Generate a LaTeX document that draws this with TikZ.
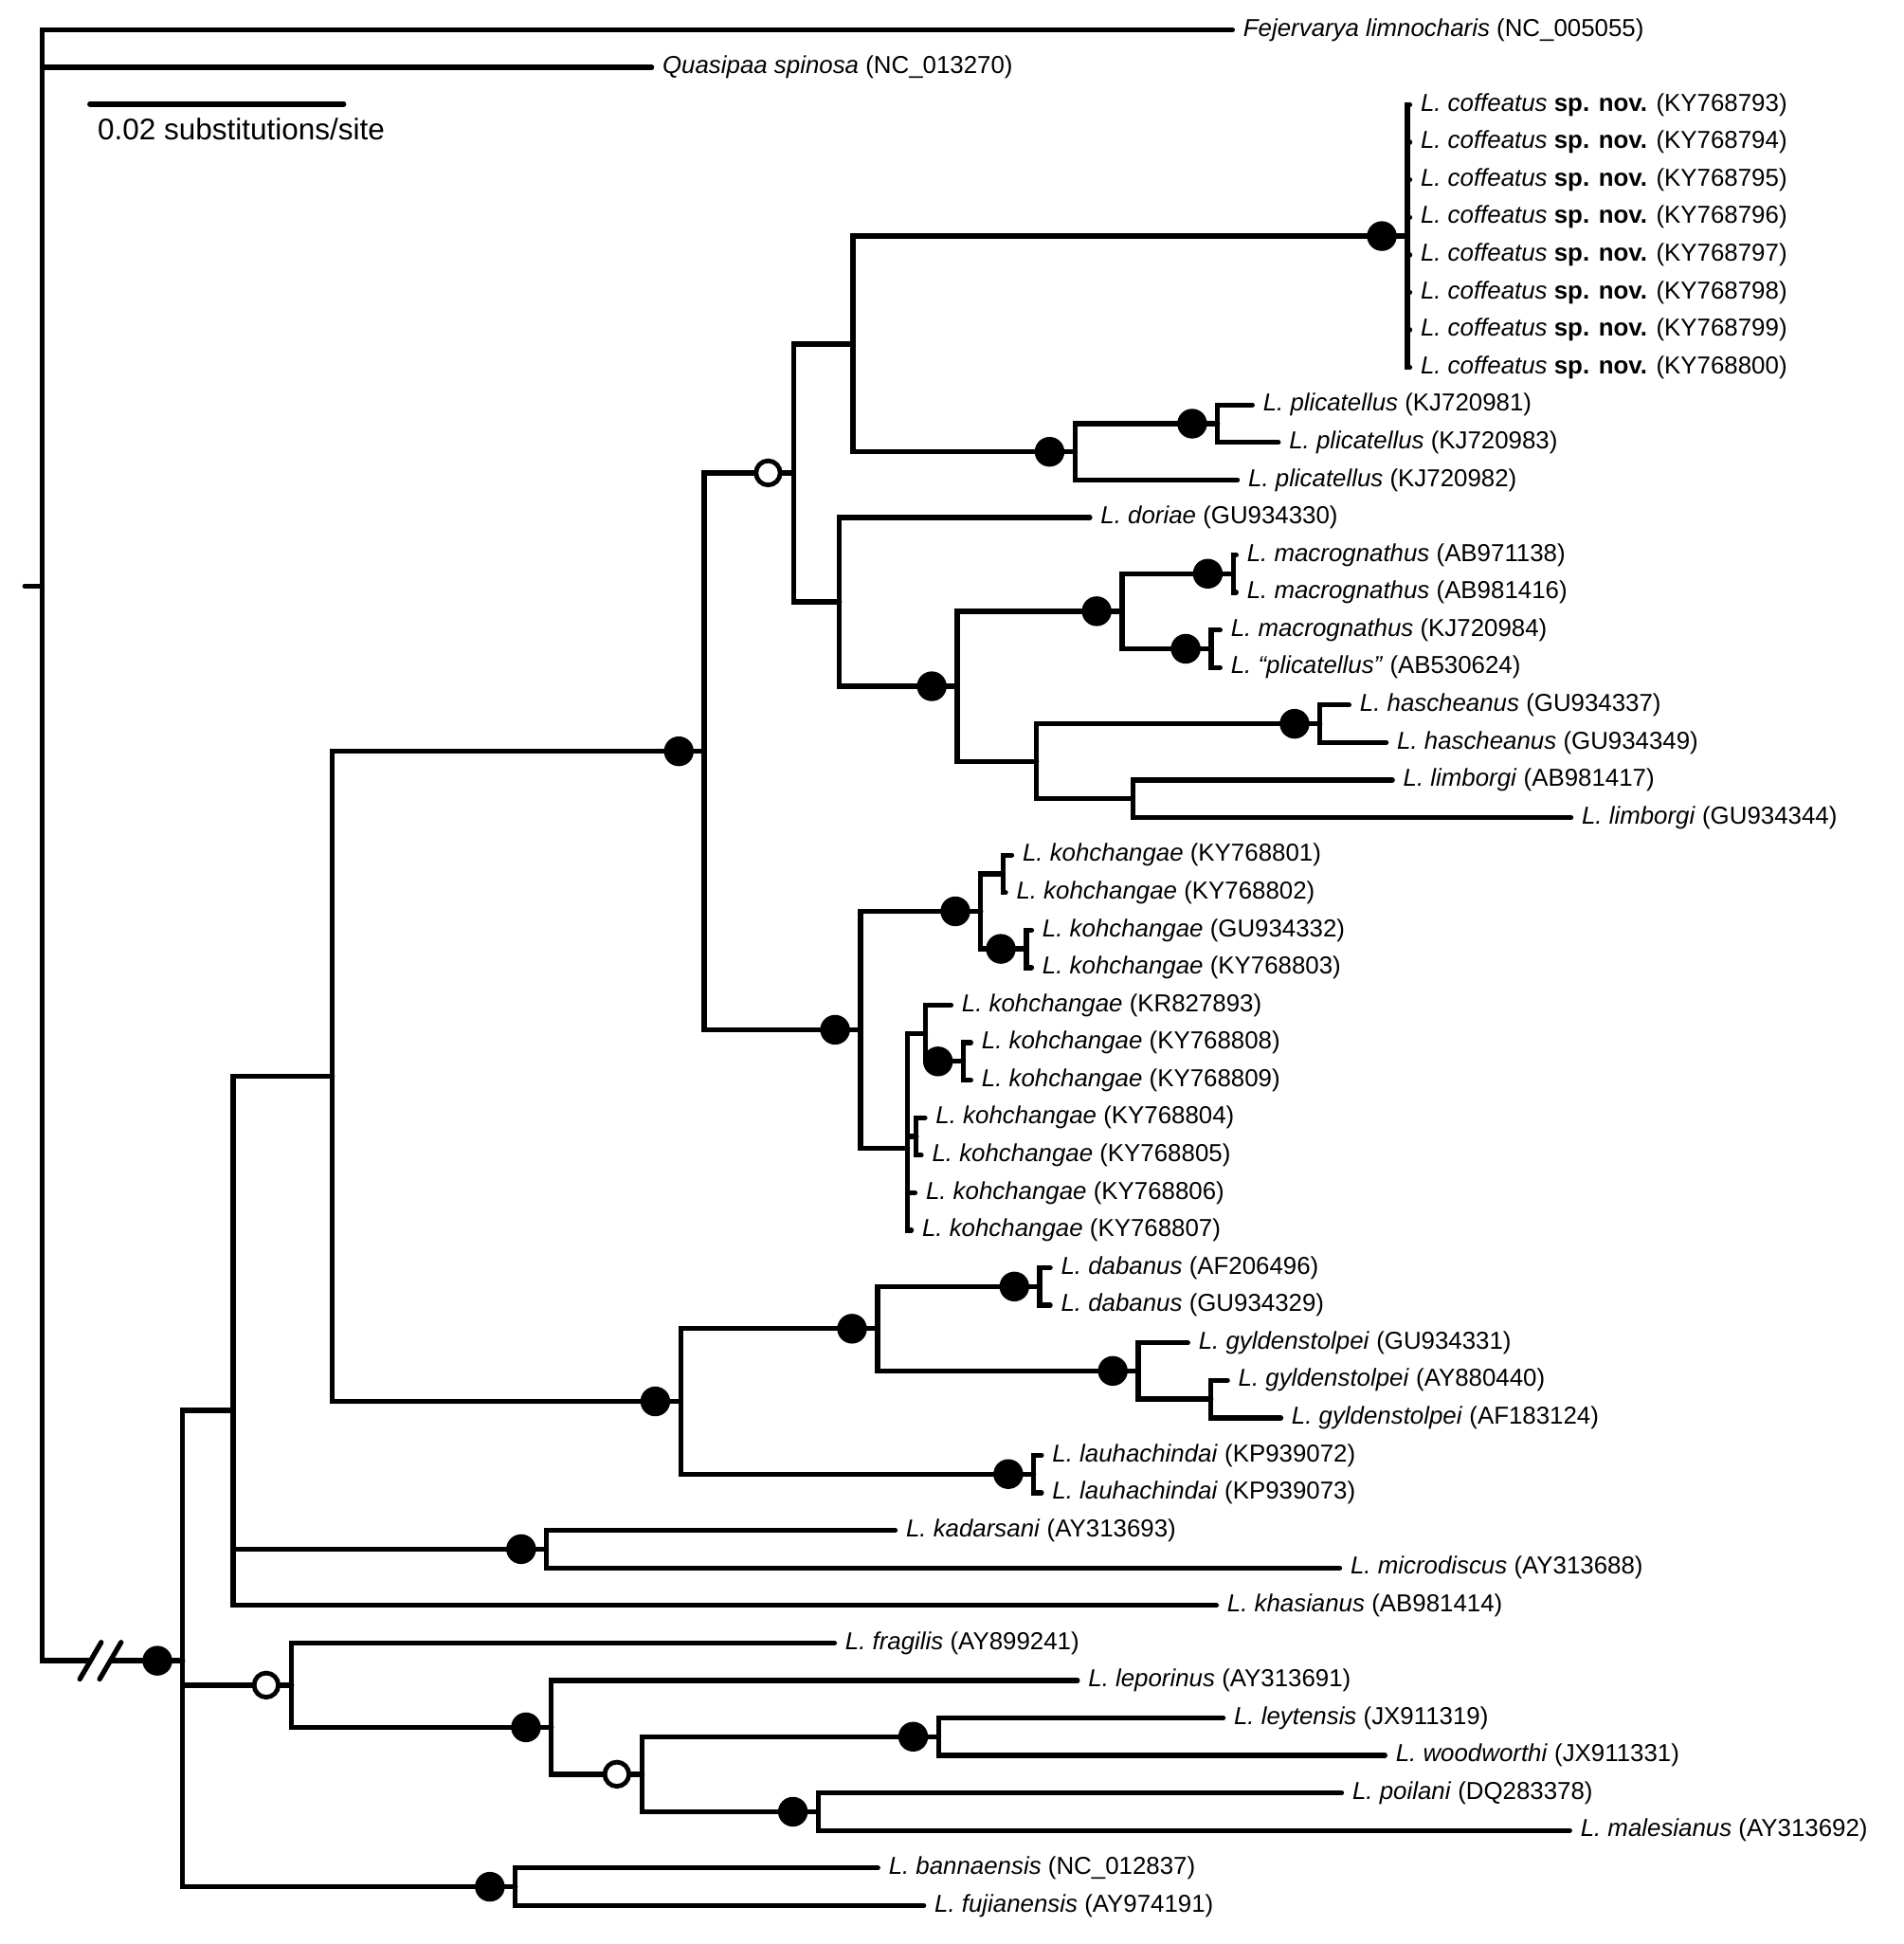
\documentclass[tikz,border=0pt]{standalone}
\usepackage{fontspec}
\setmainfont{Liberation Sans}
\usetikzlibrary{calc}
\newcommand{\taxfont}{\fontsize{11.25}{13}\selectfont}
\newcommand{\Lsp}[1]{\textit{L. #1}}

\begin{document}
\begin{tikzpicture}[
  x=0.02cm, y=-0.6052cm,
  br/.style={line width=2.3pt, line cap=round},
  tax/.style={anchor=west, inner xsep=4.8pt, inner ysep=0pt, font=\taxfont},
  pp/.style={circle, fill=black, inner sep=0pt, minimum size=4.8mm},
  np/.style={circle, draw, fill=white, line width=2.1pt, inner sep=0pt, minimum size=3.9mm}
]
\useasboundingbox (0,-0.7931) rectangle (1535,51.0264);

% tips
\node[tax] (fej) at (994,0) {\textit{Fejervarya limnocharis} (NC\_005055)};
\node[tax] (qua) at (525.6,1) {\textit{Quasipaa spinosa} (NC\_013270)};
\node[tax] (cof1) at (1137,2) {\Lsp{coffeatus} \textbf{sp. nov.} (KY768793)};
\node[tax] (cof2) at (1137,3) {\Lsp{coffeatus} \textbf{sp. nov.} (KY768794)};
\node[tax] (cof3) at (1137,4) {\Lsp{coffeatus} \textbf{sp. nov.} (KY768795)};
\node[tax] (cof4) at (1137,5) {\Lsp{coffeatus} \textbf{sp. nov.} (KY768796)};
\node[tax] (cof5) at (1137,6) {\Lsp{coffeatus} \textbf{sp. nov.} (KY768797)};
\node[tax] (cof6) at (1137,7) {\Lsp{coffeatus} \textbf{sp. nov.} (KY768798)};
\node[tax] (cof7) at (1137,8) {\Lsp{coffeatus} \textbf{sp. nov.} (KY768799)};
\node[tax] (cof8) at (1137,9) {\Lsp{coffeatus} \textbf{sp. nov.} (KY768800)};
\node[tax] (plia) at (1010,10) {\Lsp{plicatellus} (KJ720981)};
\node[tax] (plib) at (1031,11) {\Lsp{plicatellus} (KJ720983)};
\node[tax] (plic) at (998,12) {\Lsp{plicatellus} (KJ720982)};
\node[tax] (dor) at (879,13) {\Lsp{doriae} (GU934330)};
\node[tax] (maca) at (997,14) {\Lsp{macrognathus} (AB971138)};
\node[tax] (macb) at (997,15) {\Lsp{macrognathus} (AB981416)};
\node[tax] (macc) at (984,16) {\Lsp{macrognathus} (KJ720984)};
\node[tax] (macd) at (984,17) {\Lsp{“plicatellus”} (AB530624)};
\node[tax] (hasa) at (1088,18) {\Lsp{hascheanus} (GU934337)};
\node[tax] (hasb) at (1118,19) {\Lsp{hascheanus} (GU934349)};
\node[tax] (lima) at (1123,20) {\Lsp{limborgi} (AB981417)};
\node[tax] (limb) at (1267,21) {\Lsp{limborgi} (GU934344)};
\node[tax] (koha) at (816,22) {\Lsp{kohchangae} (KY768801)};
\node[tax] (kohb) at (811,23) {\Lsp{kohchangae} (KY768802)};
\node[tax] (kohc) at (832,24) {\Lsp{kohchangae} (GU934332)};
\node[tax] (kohd) at (832,25) {\Lsp{kohchangae} (KY768803)};
\node[tax] (kohe) at (767,26) {\Lsp{kohchangae} (KR827893)};
\node[tax] (kohf) at (783,27) {\Lsp{kohchangae} (KY768808)};
\node[tax] (kohg) at (783,28) {\Lsp{kohchangae} (KY768809)};
\node[tax] (kohh) at (746,29) {\Lsp{kohchangae} (KY768804)};
\node[tax] (kohi) at (743,30) {\Lsp{kohchangae} (KY768805)};
\node[tax] (kohj) at (738,31) {\Lsp{kohchangae} (KY768806)};
\node[tax] (kohk) at (735,32) {\Lsp{kohchangae} (KY768807)};
\node[tax] (daba) at (847,33) {\Lsp{dabanus} (AF206496)};
\node[tax] (dabb) at (847,34) {\Lsp{dabanus} (GU934329)};
\node[tax] (gyla) at (958,35) {\Lsp{gyldenstolpei} (GU934331)};
\node[tax] (gylb) at (990,36) {\Lsp{gyldenstolpei} (AY880440)};
\node[tax] (gylc) at (1033,37) {\Lsp{gyldenstolpei} (AF183124)};
\node[tax] (laua) at (840,38) {\Lsp{lauhachindai} (KP939072)};
\node[tax] (laub) at (840,39) {\Lsp{lauhachindai} (KP939073)};
\node[tax] (kad) at (722,40) {\Lsp{kadarsani} (AY313693)};
\node[tax] (mic) at (1080.5,41) {\Lsp{microdiscus} (AY313688)};
\node[tax] (kha) at (981,42) {\Lsp{khasianus} (AB981414)};
\node[tax] (fra) at (673,43) {\Lsp{fragilis} (AY899241)};
\node[tax] (lep) at (869,44) {\Lsp{leporinus} (AY313691)};
\node[tax] (ley) at (986.5,45) {\Lsp{leytensis} (JX911319)};
\node[tax] (woo) at (1117,46) {\Lsp{woodworthi} (JX911331)};
\node[tax] (poi) at (1082,47) {\Lsp{poilani} (DQ283378)};
\node[tax] (mal) at (1266,48) {\Lsp{malesianus} (AY313692)};
\node[tax] (ban) at (708,49) {\Lsp{bannaensis} (NC\_012837)};
\node[tax] (fuj) at (745,50) {\Lsp{fujianensis} (AY974191)};

% inner nodes
\coordinate (rstub) at (20,14.825);
\coordinate (root) at (34,14.825);
\coordinate (brkL) at (73,43.475);
\coordinate (brkR) at (89,43.475);
\coordinate (A) at (147.4,43.475);
\coordinate (B) at (188,36.799);
\coordinate (C) at (235.2,44.125);
\coordinate (BN) at (415.6,49.5);
\coordinate (D) at (268,27.898);
\coordinate (KD) at (440.8,40.5);
\coordinate (E) at (568,19.234);
\coordinate (F) at (549,36.5625);
\coordinate (G) at (640,11.8125);
\coordinate (K) at (694,26.656);
\coordinate (H) at (688,8.375);
\coordinate (I) at (677,15.25);
\coordinate (COF) at (1135,5.5);
\coordinate (P1) at (867,11.25);
\coordinate (P2) at (982,10.5);
\coordinate (J) at (772,17.5);
\coordinate (M) at (905,15.5);
\coordinate (M1) at (994.6,14.5);
\coordinate (M2) at (976.8,16.5);
\coordinate (N) at (836,19.5);
\coordinate (HS) at (1064.6,18.5);
\coordinate (LB) at (913.8,20.5);
\coordinate (K1) at (791,23.5);
\coordinate (K1a) at (809,22.5);
\coordinate (K1b) at (827.7,24.5);
\coordinate (K2) at (732,29.8125);
\coordinate (K3) at (746.4,26.75);
\coordinate (K3b) at (777,27.5);
\coordinate (K2b) at (739,29.5);
\coordinate (F1) at (707.7,34.625);
\coordinate (DB) at (838.6,33.5);
\coordinate (GY) at (918,35.75);
\coordinate (GY2) at (976.7,36.5);
\coordinate (LH) at (833.7,38.5);
\coordinate (C2) at (444.7,45.25);
\coordinate (C3) at (518,46.5);
\coordinate (LY) at (757,45.5);
\coordinate (PO) at (660,47.5);

% branches
\draw[br] (rstub) -- (root);
\draw[br] (root) |- (fej.west) (root) |- (qua.west) (root) |- (brkL);
\draw[br] (brkR) -- (A);
\draw[br] ($(brkL)+(-8.65,0.49)$) -- ($(brkL)+(8.65,-0.49)$);
\draw[br] ($(brkR)+(-8.65,0.49)$) -- ($(brkR)+(8.65,-0.49)$);
\draw[br] (A) |- (B) (A) |- (C) (A) |- (BN);
\draw[br] (B) |- (D) (B) |- (KD) (B) |- (kha.west);
\draw[br] (KD) |- (kad.west) (KD) |- (mic.west);
\draw[br] (D) |- (E) (D) |- (F);
\draw[br] (E) |- (G) (E) |- (K);
\draw[br] (G) |- (H) (G) |- (I);
\draw[br] (H) |- (COF) (H) |- (P1);
\foreach \i in {1,...,8} \draw[br] (COF) |- (cof\i.west);
\draw[br] (P1) |- (P2) (P1) |- (plic.west);
\draw[br] (P2) |- (plia.west) (P2) |- (plib.west);
\draw[br] (I) |- (dor.west) (I) |- (J);
\draw[br] (J) |- (M) (J) |- (N);
\draw[br] (M) |- (M1) (M) |- (M2);
\draw[br] (M1) |- (maca.west) (M1) |- (macb.west);
\draw[br] (M2) |- (macc.west) (M2) |- (macd.west);
\draw[br] (N) |- (HS) (N) |- (LB);
\draw[br] (HS) |- (hasa.west) (HS) |- (hasb.west);
\draw[br] (LB) |- (lima.west) (LB) |- (limb.west);
\draw[br] (K) |- (K1) (K) |- (K2);
\draw[br] (K1) |- (K1a) (K1) |- (K1b);
\draw[br] (K1a) |- (koha.west) (K1a) |- (kohb.west);
\draw[br] (K1b) |- (kohc.west) (K1b) |- (kohd.west);
\draw[br] (K2) |- (K3) (K2) |- (K2b) (K2) |- (kohj.west) (K2) |- (kohk.west);
\draw[br] (K3) |- (kohe.west) (K3) |- (K3b);
\draw[br] (K3b) |- (kohf.west) (K3b) |- (kohg.west);
\draw[br] (K2b) |- (kohh.west) (K2b) |- (kohi.west);
\draw[br] (F) |- (F1) (F) |- (LH);
\draw[br] (F1) |- (DB) (F1) |- (GY);
\draw[br] (DB) |- (daba.west) (DB) |- (dabb.west);
\draw[br] (GY) |- (gyla.west) (GY) |- (GY2);
\draw[br] (GY2) |- (gylb.west) (GY2) |- (gylc.west);
\draw[br] (LH) |- (laua.west) (LH) |- (laub.west);
\draw[br] (C) |- (fra.west) (C) |- (C2);
\draw[br] (C2) |- (lep.west) (C2) |- (C3);
\draw[br] (C3) |- (LY) (C3) |- (PO);
\draw[br] (LY) |- (ley.west) (LY) |- (woo.west);
\draw[br] (PO) |- (poi.west) (PO) |- (mal.west);
\draw[br] (BN) |- (ban.west) (BN) |- (fuj.west);

% support
\foreach \n in {A,BN,KD,E,F,K,COF,P1,P2,J,M,M1,M2,HS,K1,K1b,K3b,F1,DB,GY,LH,C2,LY,PO}
  \node[pp] (s\n) at ($(\n)+(-20.5,0)$) {};
\foreach \n in {C,G,C3}
  \node[np] (s\n) at ($(\n)+(-20.5,0)$) {};

% scale
\coordinate (sb0) at (72.4,1.983);
\coordinate (sb1) at (277.3,1.983);
\draw[br] (sb0) -- (sb1);
\node[anchor=west, inner sep=0pt, font=\fontsize{13.7}{15}\selectfont] (sbl) at (78.5,2.66) {0.02 substitutions/site};
\end{tikzpicture}
\end{document}
